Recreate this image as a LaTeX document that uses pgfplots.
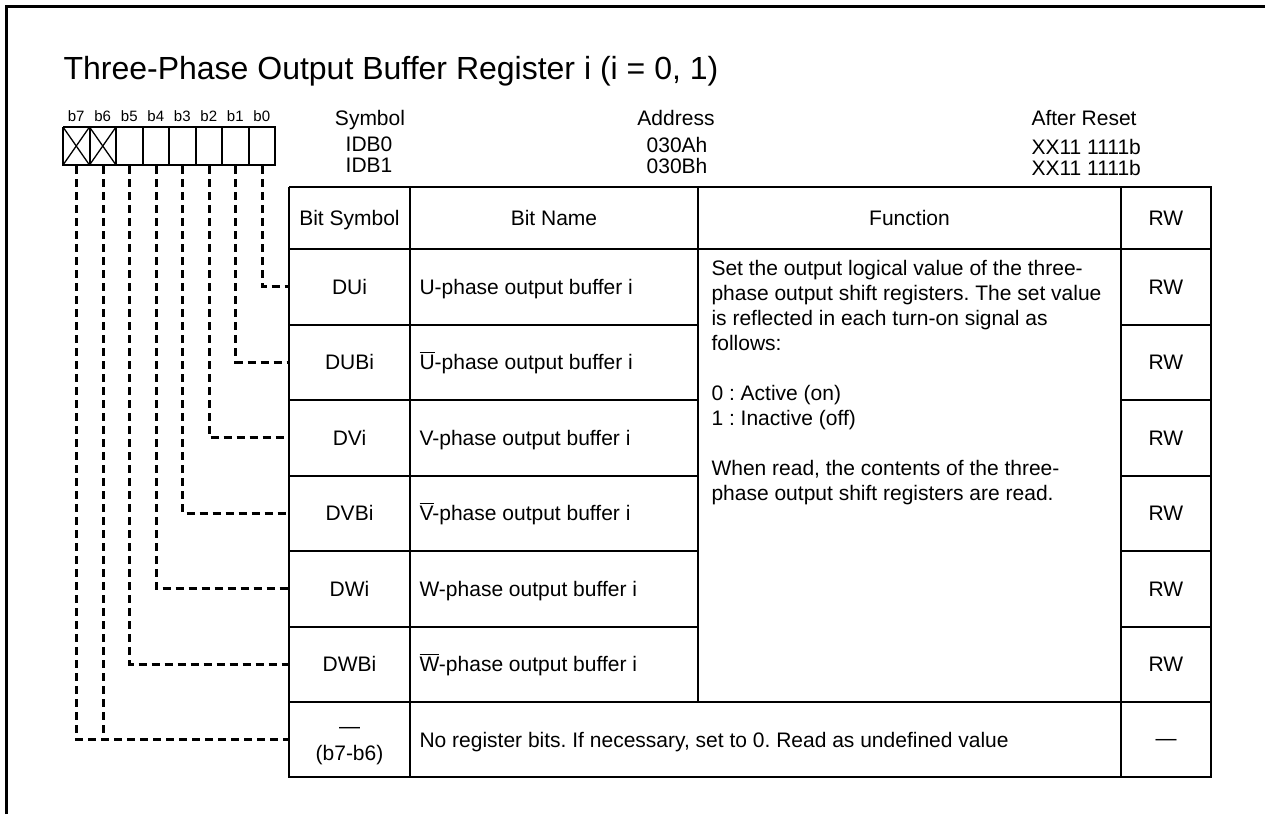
\documentclass[border=0pt]{standalone}
\usepackage{pgfplots}
\pgfplotsset{compat=1.18}
\usepackage{fontspec}
\setmainfont{Liberation Sans}
\frenchspacing
\newcommand\fs{\fontsize{21}{25}\selectfont}
\newcommand\ft{\fontsize{32}{38}\selectfont}
\newcommand\fb{\fontsize{15}{18}\selectfont}
\newcommand\ol[1]{\leavevmode\setbox0\hbox{#1}\rlap{\rule[0.8em]{\wd0}{0.065em}}#1}
\begin{document}
\begin{tikzpicture}
\begin{axis}[
  width=1265pt, height=814pt, scale only axis,
  xmin=0, xmax=1265, ymin=0, ymax=814, y dir=reverse,
  hide axis, clip=false,
  every node/.append style={inner sep=0pt},
]
% background
\addplot[draw=none, fill=white] coordinates {(0,0) (1265,0) (1265,814) (0,814) (0,0)};
% outer frame (top and left)
\addplot[black, line width=3pt] coordinates {(6,814) (6,6) (1265,6)};

% title
\node[anchor=base west, font=\ft] at (axis cs:60,79) {Three-Phase Output Buffer Register i (i = 0, 1)};

% bit boxes
\addplot[black, line width=2pt] coordinates {(63,127) (275,127) (275,165) (63,165) (63,127)};
\addplot[black, line width=2pt] coordinates {(89.5,127) (89.5,165)};
\addplot[black, line width=2pt] coordinates {(116,127) (116,165)};
\addplot[black, line width=2pt] coordinates {(142.5,127) (142.5,165)};
\addplot[black, line width=2pt] coordinates {(169,127) (169,165)};
\addplot[black, line width=2pt] coordinates {(195.5,127) (195.5,165)};
\addplot[black, line width=2pt] coordinates {(222,127) (222,165)};
\addplot[black, line width=2pt] coordinates {(248.5,127) (248.5,165)};
\addplot[black, line width=1.3pt] coordinates {(63,127) (89.5,165)};
\addplot[black, line width=1.3pt] coordinates {(63,165) (89.5,127)};
\addplot[black, line width=1.3pt] coordinates {(89.5,127) (116,165)};
\addplot[black, line width=1.3pt] coordinates {(89.5,165) (116,127)};
% bit labels
\node[anchor=base, font=\fb] at (axis cs:76.25,121) {b7};
\node[anchor=base, font=\fb] at (axis cs:102.75,121) {b6};
\node[anchor=base, font=\fb] at (axis cs:129.25,121) {b5};
\node[anchor=base, font=\fb] at (axis cs:155.75,121) {b4};
\node[anchor=base, font=\fb] at (axis cs:182.25,121) {b3};
\node[anchor=base, font=\fb] at (axis cs:208.75,121) {b2};
\node[anchor=base, font=\fb] at (axis cs:235.25,121) {b1};
\node[anchor=base, font=\fb] at (axis cs:261.75,121) {b0};

% dashed leaders
\pgfplotsset{lead/.style={black, line width=3pt, dash pattern=on 8pt off 5pt}}
\addplot[lead] coordinates {(262.25,166) (262.25,286.75) (289,286.75)};
\addplot[lead] coordinates {(235.75,166) (235.75,362.25) (289,362.25)};
\addplot[lead] coordinates {(209.25,166) (209.25,437.75) (289,437.75)};
\addplot[lead] coordinates {(182.75,166) (182.75,513.25) (289,513.25)};
\addplot[lead] coordinates {(156.25,166) (156.25,588.75) (289,588.75)};
\addplot[lead] coordinates {(129.75,166) (129.75,664.25) (289,664.25)};
\addplot[lead] coordinates {(103.25,166) (103.25,739.5)};
\addplot[lead] coordinates {(76.75,166) (76.75,739.5) (289,739.5)};

% header info
\node[anchor=base, font=\fs] at (axis cs:370,125) {Symbol};
\node[anchor=base, font=\fs] at (axis cs:369,151) {IDB0};
\node[anchor=base, font=\fs] at (axis cs:369,172) {IDB1};
\node[anchor=base, font=\fs] at (axis cs:676,125) {Address};
\node[anchor=base, font=\fs] at (axis cs:677,152) {030Ah};
\node[anchor=base, font=\fs] at (axis cs:677,173) {030Bh};
\node[anchor=base west, font=\fs] at (axis cs:1028,125) {After Reset};
\node[anchor=base west, font=\fs] at (axis cs:1028,154) {XX11 1111b};
\node[anchor=base west, font=\fs] at (axis cs:1028,175) {XX11 1111b};

% table frame
\pgfplotsset{tab/.style={black, line width=2pt}}
\addplot[tab] coordinates {(289,187) (1211,187) (1211,777) (289,777) (289,187)};
\addplot[tab] coordinates {(410,187) (410,777)};
\addplot[tab] coordinates {(698,187) (698,702)};
\addplot[tab] coordinates {(1121,187) (1121,777)};
\addplot[tab] coordinates {(289,249) (1211,249)};
\addplot[tab] coordinates {(289,702) (1211,702)};
\addplot[tab] coordinates {(289,324.5) (698,324.5)};
\addplot[tab] coordinates {(289,400) (698,400)};
\addplot[tab] coordinates {(289,475.5) (698,475.5)};
\addplot[tab] coordinates {(289,551) (698,551)};
\addplot[tab] coordinates {(289,626.5) (698,626.5)};
\addplot[tab] coordinates {(1121,324.5) (1211,324.5)};
\addplot[tab] coordinates {(1121,400) (1211,400)};
\addplot[tab] coordinates {(1121,475.5) (1211,475.5)};
\addplot[tab] coordinates {(1121,551) (1211,551)};
\addplot[tab] coordinates {(1121,626.5) (1211,626.5)};

% header row
\node[anchor=base, font=\fs] at (axis cs:349.5,225.5) {Bit Symbol};
\node[anchor=base, font=\fs] at (axis cs:554,225.5) {Bit Name};
\node[anchor=base, font=\fs] at (axis cs:909.5,225.5) {Function};
\node[anchor=base, font=\fs] at (axis cs:1166,225.5) {RW};

% rows
\node[anchor=base, font=\fs] at (axis cs:349.5,294.25) {DUi};
\node[anchor=base, font=\fs] at (axis cs:349.5,369.75) {DUBi};
\node[anchor=base, font=\fs] at (axis cs:349.5,445.25) {DVi};
\node[anchor=base, font=\fs] at (axis cs:349.5,520.75) {DVBi};
\node[anchor=base, font=\fs] at (axis cs:349.5,596.25) {DWi};
\node[anchor=base, font=\fs] at (axis cs:349.5,671.75) {DWBi};
\node[anchor=base, font=\fs] at (axis cs:349.5,733) {—};
\node[anchor=base, font=\fs] at (axis cs:349.5,760) {(b7-b6)};

\node[anchor=base west, font=\fs] at (axis cs:416,294.25) {U-phase output buffer i};
\node[anchor=base west, font=\fs] at (axis cs:416,369.75) {\ol{U}-phase output buffer i};
\node[anchor=base west, font=\fs] at (axis cs:416,445.25) {V-phase output buffer i};
\node[anchor=base west, font=\fs] at (axis cs:416,520.75) {\ol{V}-phase output buffer i};
\node[anchor=base west, font=\fs] at (axis cs:416,596.25) {W-phase output buffer i};
\node[anchor=base west, font=\fs] at (axis cs:416,671.75) {\ol{W}-phase output buffer i};
\node[anchor=base west, font=\fs] at (axis cs:416,747) {No register bits. If necessary, set to 0. Read as undefined value};

\node[anchor=base, font=\fs] at (axis cs:1166,294.25) {RW};
\node[anchor=base, font=\fs] at (axis cs:1166,369.75) {RW};
\node[anchor=base, font=\fs] at (axis cs:1166,445.25) {RW};
\node[anchor=base, font=\fs] at (axis cs:1166,520.75) {RW};
\node[anchor=base, font=\fs] at (axis cs:1166,596.25) {RW};
\node[anchor=base, font=\fs] at (axis cs:1166,671.75) {RW};
\node[anchor=base, font=\fs] at (axis cs:1166,745) {—};

% function text
\node[anchor=base west, font=\fs] at (axis cs:708,275) {Set the output logical value of the three-};
\node[anchor=base west, font=\fs] at (axis cs:708,300) {phase output shift registers. The set value};
\node[anchor=base west, font=\fs] at (axis cs:708,325) {is reflected in each turn-on signal as};
\node[anchor=base west, font=\fs] at (axis cs:708,350) {follows:};
\node[anchor=base west, font=\fs] at (axis cs:708,400) {0 : Active (on)};
\node[anchor=base west, font=\fs] at (axis cs:708,425) {1 : Inactive (off)};
\node[anchor=base west, font=\fs] at (axis cs:708,475) {When read, the contents of the three-};
\node[anchor=base west, font=\fs] at (axis cs:708,500) {phase output shift registers are read.};
\end{axis}
\pgfresetboundingbox
\path[use as bounding box] (0,0) rectangle (1265pt,814pt);
\end{tikzpicture}
\end{document}
